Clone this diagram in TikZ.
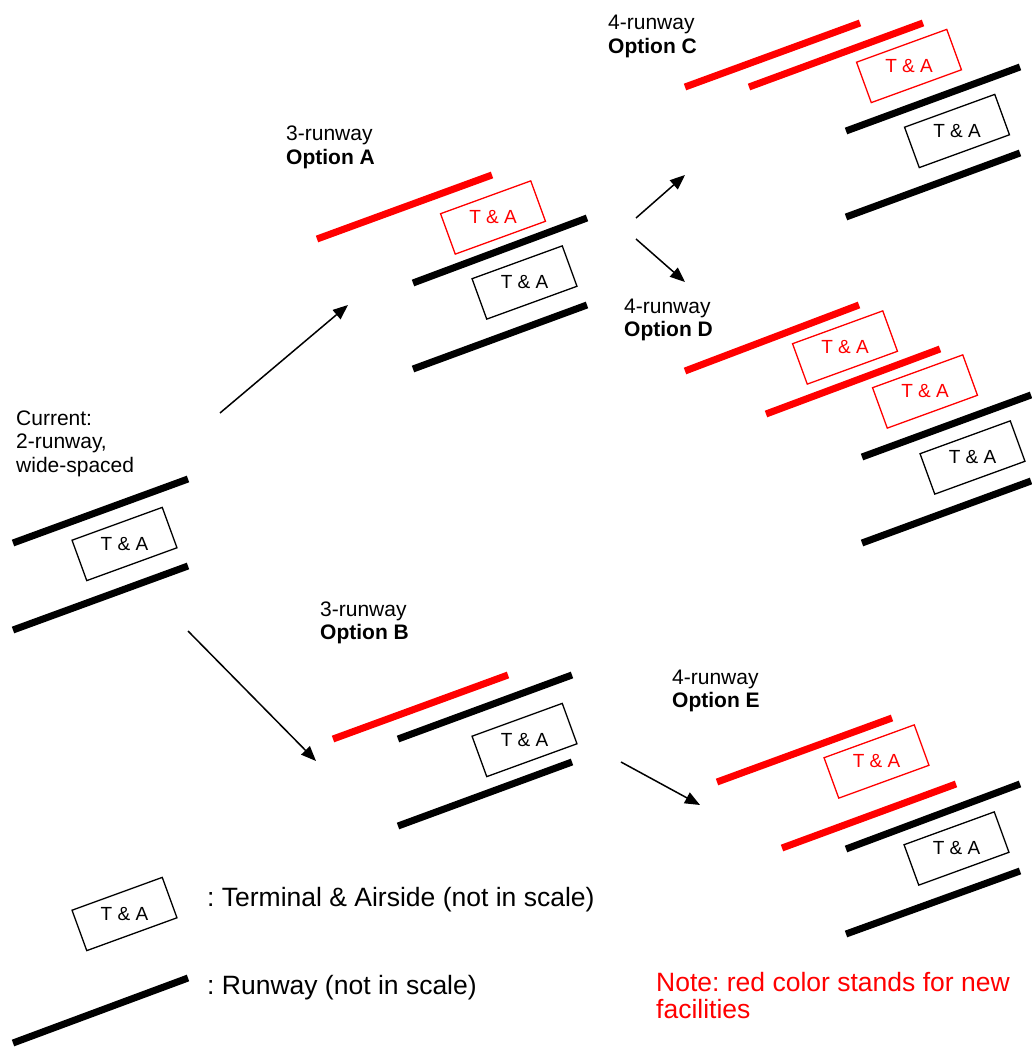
\documentclass[tikz,border=0pt]{standalone}
\usepackage{fontspec}
\setmainfont{Liberation Sans}
\usetikzlibrary{arrows.meta}
\frenchspacing
\begin{document}
\begin{tikzpicture}[x=1pt,y=-1pt,
  rwy/.style={line width=7pt, line cap=butt, black},
  newrwy/.style={rwy, red},
  tabox/.style={draw=black, line width=1.3pt, rotate=20, minimum width=96pt, minimum height=43pt, inner sep=0pt},
  newtabox/.style={tabox, draw=red},
  tatext/.style={font=\fontsize{19}{19}\selectfont, inner sep=0pt, text=black},
  newtatext/.style={tatext, text=red},
  lbl/.style={anchor=base west, inner sep=0pt, font=\fontsize{21}{23.5}\selectfont},
  legendtext/.style={anchor=base west, inner sep=0pt, font=\fontsize{26.5}{27.5}\selectfont},
  flow/.style={line width=1.5pt, -{Triangle[length=15pt,width=12pt]}}]
\useasboundingbox (0,0) rectangle (1031,1048);

% ---- current layout: two wide-spaced runways ----
\node[lbl] (curlbl) at (16,425) {\vtop{\hbox{Current:}\hbox{2-runway,}\hbox{wide-spaced}}};
\draw[rwy] (13,543) -- (188,479);
\draw[rwy] (13,630) -- (188,566);
\node[tabox] (cur) at (124.5,544) {};
\node[tatext] (curt) at (cur.center) {T \& A};

% ---- option A ----
\node[lbl] (albl) at (286,141) {\vtop{\hbox{3-runway}\hbox{\bfseries Option A}}};
\draw[newrwy] (317,239) -- (492,175);
\node[newtabox] (anew) at (493,217.5) {};
\node[newtatext] (anewt) at (anew.center) {T \& A};
\draw[rwy] (413,283) -- (587,218);
\node[tabox] (aold) at (524.5,282.5) {};
\node[tatext] (aoldt) at (aold.center) {T \& A};
\draw[rwy] (413,369) -- (587,305);

% ---- option C ----
\node[lbl] (clbl) at (608,30) {\vtop{\hbox{4-runway}\hbox{\bfseries Option C}}};
\draw[newrwy] (685,87) -- (860,23);
\draw[newrwy] (749,87) -- (923,23);
\node[newtabox] (cnew) at (909,66) {};
\node[newtatext] (cnewt) at (cnew.center) {T \& A};
\draw[rwy] (846,131) -- (1020,67);
\node[tabox] (cold) at (957,131) {};
\node[tatext] (coldt) at (cold.center) {T \& A};
\draw[rwy] (846,217) -- (1020,153);

% ---- option D ----
\node[lbl] (dlbl) at (624,313) {\vtop{\hbox{4-runway}\hbox{\bfseries Option D}}};
\draw[newrwy] (685,371) -- (859,305);
\node[newtabox] (dnewa) at (845,347.5) {};
\node[newtatext] (dnewat) at (dnewa.center) {T \& A};
\draw[newrwy] (766,414) -- (940,349);
\node[newtabox] (dnewb) at (925,391.5) {};
\node[newtatext] (dnewbt) at (dnewb.center) {T \& A};
\draw[rwy] (862,457) -- (1031,395);
\node[tabox] (dold) at (972.5,457.5) {};
\node[tatext] (doldt) at (dold.center) {T \& A};
\draw[rwy] (862,543) -- (1031,481);

% ---- option B ----
\node[lbl] (blbl) at (320,616) {\vtop{\hbox{3-runway}\hbox{\bfseries Option B}}};
\draw[newrwy] (333,739) -- (508,675);
\draw[rwy] (398,739) -- (572,675);
\node[tabox] (bold) at (524.5,740) {};
\node[tatext] (boldt) at (bold.center) {T \& A};
\draw[rwy] (398,826) -- (572,762);

% ---- option E ----
\node[lbl] (elbl) at (672,684) {\vtop{\hbox{4-runway}\hbox{\bfseries Option E}}};
\draw[newrwy] (717,782) -- (892,718);
\node[newtabox] (enew) at (876.5,761.5) {};
\node[newtatext] (enewt) at (enew.center) {T \& A};
\draw[newrwy] (782,848) -- (956,784);
\draw[rwy] (846,849) -- (1020,784);
\node[tabox] (eold) at (956.5,848.5) {};
\node[tatext] (eoldt) at (eold.center) {T \& A};
\draw[rwy] (846,934) -- (1020,871);

% ---- development arrows ----
\coordinate (toAs) at (220,413);  \coordinate (toAe) at (348,305);
\coordinate (toCs) at (636,218);  \coordinate (toCe) at (685,175);
\coordinate (toDs) at (636,239);  \coordinate (toDe) at (685,282);
\coordinate (toBs) at (188,631);  \coordinate (toBe) at (316,761);
\coordinate (toEs) at (621,762);  \coordinate (toEe) at (700,805);
\draw[flow] (toAs) -- (toAe);
\draw[flow] (toCs) -- (toCe);
\draw[flow] (toDs) -- (toDe);
\draw[flow] (toBs) -- (toBe);
\draw[flow] (toEs) -- (toEe);

% ---- legend ----
\node[tabox] (legbox) at (124.5,914) {};
\node[tatext] (legboxt) at (legbox.center) {T \& A};
\node[legendtext] (legta) at (207,906) {: Terminal \& Airside (not in scale)};
\draw[rwy] (13,1043) -- (188,978);
\node[legendtext] (legrwy) at (207,994) {: Runway (not in scale)};
\node[legendtext, text=red] (note) at (656,991) {\vtop{\hbox{Note: red color stands for new}\hbox{facilities}}};
\end{tikzpicture}
\end{document}
